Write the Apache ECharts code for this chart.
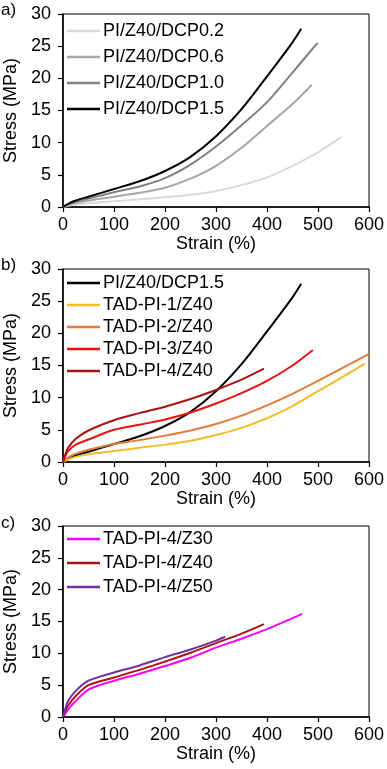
<!DOCTYPE html>
<html>
<head>
<meta charset="utf-8">
<script src="https://cdn.jsdelivr.net/npm/echarts@6/dist/echarts.min.js"></script>
<style>
html,body{margin:0;padding:0;background:#fff;}
#chart{width:387px;height:769px;}
</style>
</head>
<body>
<div id="chart"></div>
<script>
// ---------- Data ----------
var xTicks = [0, 100, 200, 300, 400, 500, 600];
var yTicks = [0, 5, 10, 15, 20, 25, 30];

// Panel a
var dcp02Strain = [0, 10, 25, 50, 100, 150, 200, 250, 300, 350, 400, 450, 500, 546];
var dcp02Stress = [0, 0.2, 0.4, 0.6, 0.9, 1.2, 1.5, 1.9, 2.5, 3.4, 4.6, 6.4, 8.5, 10.9];
var dcp06Strain = [0, 10, 25, 50, 100, 150, 200, 250, 300, 350, 400, 450, 488];
var dcp06Stress = [0, 0.3, 0.6, 1.0, 1.6, 2.2, 3.0, 4.4, 6.4, 9.2, 12.6, 16.0, 19.0];
var dcp10Strain = [0, 10, 25, 50, 100, 150, 200, 250, 300, 350, 400, 450, 499];
var dcp10Stress = [0, 0.4, 0.8, 1.3, 2.3, 3.2, 4.5, 6.6, 9.4, 12.7, 16.3, 20.9, 25.5];
var dcp15Strain = [0, 10, 25, 50, 100, 150, 200, 250, 300, 350, 400, 450, 467];
var dcp15Stress = [0, 0.5, 1.0, 1.6, 2.8, 4.0, 5.6, 7.8, 11.0, 15.2, 20.3, 25.6, 27.7];

// Panel b
var tad1Strain = [0, 10, 25, 50, 100, 150, 200, 250, 300, 350, 400, 450, 500, 550, 592];
var tad1Stress = [0, 0.4, 0.8, 1.2, 1.7, 2.2, 2.7, 3.3, 4.2, 5.3, 6.8, 8.7, 11.0, 13.3, 15.3];
var tad2Strain = [0, 10, 25, 50, 100, 150, 200, 250, 300, 350, 400, 450, 500, 550, 600];
var tad2Stress = [0, 0.7, 1.3, 1.9, 2.8, 3.4, 4.1, 4.9, 5.9, 7.2, 8.8, 10.6, 12.6, 14.7, 16.8];
var tad3Strain = [0, 5, 10, 25, 50, 100, 150, 200, 250, 300, 350, 400, 450, 490];
var tad3Stress = [0, 1.0, 1.7, 2.7, 3.5, 5.0, 5.8, 6.6, 7.7, 9.1, 10.7, 12.6, 15.0, 17.4];
var tad4Strain = [0, 5, 10, 25, 50, 100, 150, 200, 250, 300, 350, 394];
var tad4Stress = [0, 1.3, 2.2, 3.6, 4.9, 6.5, 7.6, 8.6, 9.8, 11.2, 12.8, 14.5];

// Panel c
var z30Strain = [0, 5, 10, 25, 50, 100, 150, 200, 250, 300, 350, 400, 469];
var z30Stress = [0, 0.6, 1.2, 2.5, 4.3, 5.7, 6.8, 8.0, 9.3, 10.9, 12.3, 13.8, 16.2];
var z40Strain = [0, 5, 10, 25, 50, 100, 150, 200, 250, 300, 350, 394];
var z40Stress = [0, 1.0, 1.8, 3.3, 5.0, 6.2, 7.4, 8.7, 10.1, 11.6, 13.1, 14.6];
var z50Strain = [0, 5, 10, 25, 50, 100, 150, 200, 250, 300, 318];
var z50Stress = [0, 1.4, 2.5, 4.1, 5.7, 7.0, 8.1, 9.4, 10.6, 12.0, 12.6];

// ---------- Build ----------
function pairs(xs, ys) { return xs.map(function (x, i) { return [x, ys[i]]; }); }
var FONT = 'Arial, "Liberation Sans", sans-serif';

var grids = [
  { left: 63, width: 306, top: 14, height: 193 },
  { left: 63, width: 306, top: 269, height: 193 },
  { left: 63, width: 306, top: 526, height: 191 }
];

function xAxis(i) {
  return {
    type: 'value', gridIndex: i, min: xTicks[0], max: xTicks[xTicks.length - 1], interval: xTicks[1] - xTicks[0],
    name: 'Strain (%)', nameLocation: 'middle', nameGap: 26,
    nameTextStyle: { fontFamily: FONT, fontSize: 18, color: '#000' },
    axisLine: { show: true, lineStyle: { color: '#000', width: 1.5 } },
    axisTick: { show: true, length: 5, lineStyle: { color: '#000', width: 1.2 } },
    axisLabel: { fontFamily: FONT, fontSize: 18, color: '#000', margin: 9 },
    splitLine: { show: false }
  };
}
function yAxis(i) {
  return {
    type: 'value', gridIndex: i, min: yTicks[0], max: yTicks[yTicks.length - 1], interval: yTicks[1] - yTicks[0],
    name: 'Stress (MPa)', nameLocation: 'middle', nameGap: 42,
    nameTextStyle: { fontFamily: FONT, fontSize: 18, color: '#000' },
    axisLine: { show: true, lineStyle: { color: '#000', width: 1.5 } },
    axisTick: { show: true, length: 5, lineStyle: { color: '#000', width: 1.2 } },
    axisLabel: { fontFamily: FONT, fontSize: 18, color: '#000', margin: 12 },
    splitLine: { show: false }
  };
}
function line(name, xs, ys, color, gi) {
  return {
    name: name, type: 'line', xAxisIndex: gi, yAxisIndex: gi,
    data: pairs(xs, ys), showSymbol: false, symbol: 'none',
    smooth: 0.3,
    lineStyle: { color: color, width: 2 }, itemStyle: { color: color },
    z: 3
  };
}

var series = [
  line('PI/Z40/DCP0.2', dcp02Strain, dcp02Stress, '#d9d9d9', 0),
  line('PI/Z40/DCP0.6', dcp06Strain, dcp06Stress, '#a6a6a6', 0),
  line('PI/Z40/DCP1.0', dcp10Strain, dcp10Stress, '#808080', 0),
  line('PI/Z40/DCP1.5', dcp15Strain, dcp15Stress, '#000000', 0),
  line('PI/Z40/DCP1.5 ', dcp15Strain, dcp15Stress, '#000000', 1),
  line('TAD-PI-1/Z40', tad1Strain, tad1Stress, '#f2bd2a', 1),
  line('TAD-PI-2/Z40', tad2Strain, tad2Stress, '#e07c3a', 1),
  line('TAD-PI-3/Z40', tad3Strain, tad3Stress, '#ee1111', 1),
  line('TAD-PI-4/Z40', tad4Strain, tad4Stress, '#a81414', 1),
  line('TAD-PI-4/Z30', z30Strain, z30Stress, '#ff00ff', 2),
  line('TAD-PI-4/Z40 ', z40Strain, z40Stress, '#a81414', 2),
  line('TAD-PI-4/Z50', z50Strain, z50Stress, '#7030a0', 2)
];

function legend(names, top, gap) {
  return {
    data: names, orient: 'vertical', left: 67, top: top, padding: 0, itemGap: gap,
    icon: 'rect', itemWidth: 33, itemHeight: 2.5, selectedMode: false,
    textStyle: { fontFamily: FONT, fontSize: 18, color: '#000', padding: [0, 0, 0, -2] },
    formatter: function (n) { return n.trim(); }
  };
}

var option = {
  animation: false,
  backgroundColor: '#fff',
  grid: grids.map(function (g) {
    return Object.assign({ show: true, borderColor: '#000', borderWidth: 1, backgroundColor: 'transparent',
      containLabel: false, outerBoundsMode: 'none' }, g);
  }),
  xAxis: [xAxis(0), xAxis(1), xAxis(2)],
  yAxis: [yAxis(0), yAxis(1), yAxis(2)],
  legend: [
    legend(['PI/Z40/DCP0.2', 'PI/Z40/DCP0.6', 'PI/Z40/DCP1.0', 'PI/Z40/DCP1.5'], 22, 8),
    legend(['PI/Z40/DCP1.5 ', 'TAD-PI-1/Z40', 'TAD-PI-2/Z40', 'TAD-PI-3/Z40', 'TAD-PI-4/Z40'], 274, 4),
    legend(['TAD-PI-4/Z30', 'TAD-PI-4/Z40 ', 'TAD-PI-4/Z50'], 530, 6)
  ],
  graphic: [
    { type: 'text', left: 1, top: 2, style: { text: 'a)', font: '17px ' + FONT, fill: '#000' } },
    { type: 'text', left: 1, top: 257, style: { text: 'b)', font: '17px ' + FONT, fill: '#000' } },
    { type: 'text', left: 1, top: 515, style: { text: 'c)', font: '17px ' + FONT, fill: '#000' } }
  ],
  series: series
};

var chart = echarts.init(document.getElementById('chart'), null, { renderer: 'canvas' });
chart.setOption(option);
</script>
</body>
</html>
